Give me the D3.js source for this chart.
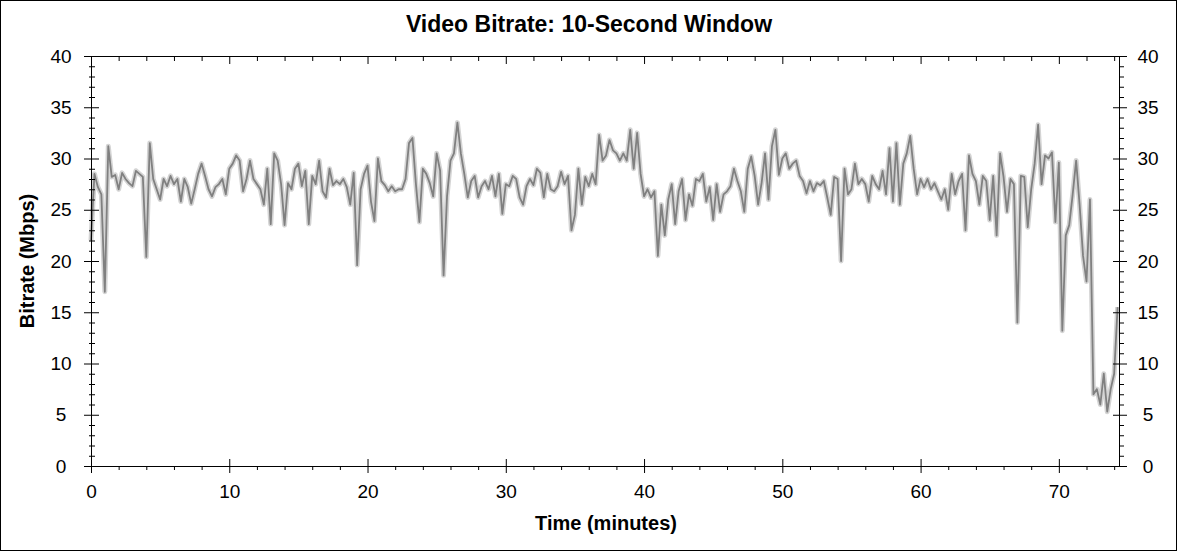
<!DOCTYPE html>
<html>
<head>
<meta charset="utf-8">
<script src="https://cdn.jsdelivr.net/npm/d3@7"></script>
<style>
  html, body { margin: 0; padding: 0; background: #fff; }
  svg { display: block; font-family: "Liberation Sans", Arial, sans-serif; }
</style>
</head>
<body>
<script>
// ---- data ----
const chartTitle = "Video Bitrate: 10-Second Window";
const xTitle = "Time (minutes)";
const yTitle = "Bitrate (Mbps)";
const timeStart = 0;        // minutes
const timeStep = 0.25;      // minutes between samples
const timeMax = 74.35;      // right edge of x axis
const xMajorTicks = [0, 10, 20, 30, 40, 50, 60, 70];
const yMajorTicks = [0, 5, 10, 15, 20, 25, 30, 35, 40];
// bitrate (Mbps), one value every 0.25 min, 8 values per row = 2 minutes
const bitrate = [
  22.0, 28.5, 27.2, 26.5, 17.0, 31.2, 28.2, 28.4,
  27.0, 28.6, 28.0, 27.6, 27.3, 28.8, 28.5, 28.2,
  20.4, 31.5, 28.0, 27.0, 26.0, 28.0, 27.3, 28.3,
  27.5, 28.0, 25.8, 28.0, 27.2, 25.6, 27.0, 28.5,
  29.5, 28.3, 27.0, 26.3, 27.2, 27.5, 28.0, 26.5,
  29.0, 29.5, 30.3, 29.8, 26.8, 28.0, 29.8, 28.0,
  27.5, 27.0, 25.5, 29.0, 23.6, 30.5, 29.8, 27.5,
  23.5, 27.6, 27.0, 29.0, 29.5, 27.3, 28.8, 23.6,
  28.3, 27.5, 29.8, 26.8, 26.2, 29.0, 27.4, 27.8,
  27.5, 28.0, 27.2, 25.5, 28.6, 19.6, 27.0, 28.5,
  29.3, 25.8, 23.9, 30.0, 27.8, 27.4, 26.8, 27.3,
  26.8, 27.0, 27.0, 28.0, 31.5, 32.0, 27.5, 23.8,
  29.0, 28.5, 27.6, 26.3, 30.5, 28.8, 18.6, 26.3,
  29.8, 30.5, 33.5, 30.5, 28.5, 26.2, 27.8, 28.3,
  26.2, 27.3, 27.8, 27.0, 28.3, 26.3, 28.5, 24.6,
  27.5, 27.3, 28.3, 28.0, 26.2, 25.5, 27.3, 28.0,
  27.4, 29.0, 28.6, 26.2, 28.5, 27.0, 26.8, 27.3,
  28.7, 27.5, 28.3, 23.0, 24.5, 29.0, 25.5, 28.2,
  27.3, 28.5, 27.5, 32.3, 29.8, 30.3, 31.8, 30.8,
  30.5, 29.8, 30.5, 29.8, 32.8, 29.0, 32.5, 28.5,
  26.3, 27.0, 26.2, 26.8, 20.5, 25.5, 22.5, 26.0,
  27.5, 23.6, 26.8, 28.0, 24.0, 26.5, 25.4, 28.0,
  27.8, 28.5, 25.8, 27.2, 24.0, 27.5, 24.8, 26.5,
  26.8, 27.3, 29.0, 27.8, 26.8, 24.8, 29.0, 30.2,
  28.3, 25.5, 27.6, 30.5, 26.0, 31.2, 32.8, 28.4,
  30.0, 30.5, 29.0, 29.5, 29.8, 28.3, 27.8, 26.6,
  27.8, 26.8, 27.6, 27.4, 27.8, 26.2, 24.5, 28.2,
  28.0, 20.0, 29.0, 26.5, 27.0, 29.5, 27.5, 28.0,
  27.5, 25.8, 28.3, 27.5, 27.0, 28.8, 26.5, 31.0,
  25.8, 31.5, 25.5, 29.5, 30.5, 32.2, 29.0, 26.5,
  28.0, 27.2, 28.0, 27.0, 27.6, 26.8, 26.0, 27.0,
  25.0, 28.5, 26.5, 27.8, 28.5, 23.0, 30.3, 28.5,
  27.8, 25.5, 28.3, 27.8, 24.0, 28.3, 22.5, 30.5,
  28.2, 24.8, 28.0, 27.5, 14.0, 28.3, 28.2, 23.3,
  27.0, 29.5, 33.3, 27.5, 30.3, 30.0, 30.6, 23.8,
  29.6, 13.2, 22.5, 23.5, 26.5, 29.8, 25.5, 20.5,
  18.0, 26.0, 7.0, 7.5, 6.0, 9.0, 5.3, 7.5,
  9.0, 15.5
];

// ---- drawing ----
const W = 1178, H = 552;
const svg = d3.select("body").append("svg").attr("width", W).attr("height", H);
const FONT = '"Liberation Sans", Arial, sans-serif';

svg.append("rect").attr("x", 0.5).attr("y", 0.5).attr("width", W - 2).attr("height", H - 2)
  .attr("fill", "#fff").attr("stroke", "#000");

const x = d3.scaleLinear().domain([0, timeMax]).range([91, 1119]);
const y = d3.scaleLinear().domain([0, 40]).range([466, 56]);

const xMinor = d3.range(0, timeMax, 2).filter(v => v % 10 !== 0);
const yMinor = d3.range(0, 40, 1).filter(v => v % 5 !== 0);

const pts = bitrate.map((v, i) => [timeStart + i * timeStep, v]);
const line = d3.line().x(d => x(d[0])).y(d => y(d[1]));

const plot = svg.append("g");
plot.append("path").datum(pts).attr("d", line)
  .attr("fill", "none").attr("stroke", "#d4d4d4").attr("stroke-width", 5).attr("stroke-linejoin", "round");
plot.append("path").datum(pts).attr("d", line)
  .attr("fill", "none").attr("stroke", "#808080").attr("stroke-width", 1.8).attr("stroke-linejoin", "round");

// frame
svg.append("rect").attr("x", 91.5).attr("y", 56.5).attr("width", 1028).attr("height", 410)
  .attr("fill", "none").attr("stroke", "#000");

function styleAxis(g) {
  g.select(".domain").remove();
  g.selectAll("line").attr("stroke", "#000");
  g.attr("font-family", FONT).attr("font-size", 19);
  g.selectAll("text").attr("fill", "#000");
}

// left axis
const gl = svg.append("g").attr("transform", "translate(91,0)");
gl.append("g").call(d3.axisLeft(y).tickValues(yMajorTicks).tickSize(7).tickSizeOuter(0).tickFormat(d3.format("d"))).call(styleAxis)
  .selectAll("text").attr("x", -30).attr("text-anchor", "middle");
gl.append("g").call(d3.axisRight(y).tickValues(yMajorTicks).tickSize(8).tickSizeOuter(0).tickFormat("")).call(styleAxis);
gl.append("g").call(d3.axisLeft(y).tickValues(yMinor).tickSize(2).tickSizeOuter(0).tickFormat("")).call(styleAxis);
gl.append("g").call(d3.axisRight(y).tickValues(yMinor).tickSize(4).tickSizeOuter(0).tickFormat("")).call(styleAxis);

// right axis
const gr = svg.append("g").attr("transform", "translate(1119,0)");
gr.append("g").call(d3.axisRight(y).tickValues(yMajorTicks).tickSize(8).tickSizeOuter(0).tickFormat(d3.format("d"))).call(styleAxis)
  .selectAll("text").attr("x", 29).attr("text-anchor", "middle");
gr.append("g").call(d3.axisLeft(y).tickValues(yMajorTicks).tickSize(6).tickSizeOuter(0).tickFormat("")).call(styleAxis);
gr.append("g").call(d3.axisRight(y).tickValues(yMinor).tickSize(5).tickSizeOuter(0).tickFormat("")).call(styleAxis);

// bottom axis
const gb = svg.append("g").attr("transform", "translate(0,466)");
gb.append("g").call(d3.axisBottom(x).tickValues(xMajorTicks).tickSize(7).tickSizeOuter(0).tickFormat(d3.format("d"))).call(styleAxis)
  .selectAll("text").attr("y", 32).attr("dy", null);
gb.append("g").call(d3.axisTop(x).tickValues(xMajorTicks).tickSize(7).tickSizeOuter(0).tickFormat("")).call(styleAxis);
gb.append("g").call(d3.axisBottom(x).tickValues(xMinor).tickSize(4).tickSizeOuter(0).tickFormat("")).call(styleAxis);

// top axis (ticks pointing inward)
const gt = svg.append("g").attr("transform", "translate(0,56)");
gt.append("g").call(d3.axisBottom(x).tickValues(xMajorTicks).tickSize(8).tickSizeOuter(0).tickFormat("")).call(styleAxis);
gt.append("g").call(d3.axisBottom(x).tickValues(xMinor).tickSize(5).tickSizeOuter(0).tickFormat("")).call(styleAxis);

// titles
svg.append("text").attr("x", 589).attr("y", 32).attr("text-anchor", "middle")
  .attr("font-family", FONT).attr("font-size", 23).attr("font-weight", "bold").text(chartTitle);
svg.append("text").attr("x", 606).attr("y", 530).attr("text-anchor", "middle")
  .attr("font-family", FONT).attr("font-size", 20).attr("font-weight", "bold").text(xTitle);
svg.append("text").attr("transform", "translate(34,261) rotate(-90)").attr("text-anchor", "middle")
  .attr("font-family", FONT).attr("font-size", 20).attr("font-weight", "bold").text(yTitle);
</script>
</body>
</html>
